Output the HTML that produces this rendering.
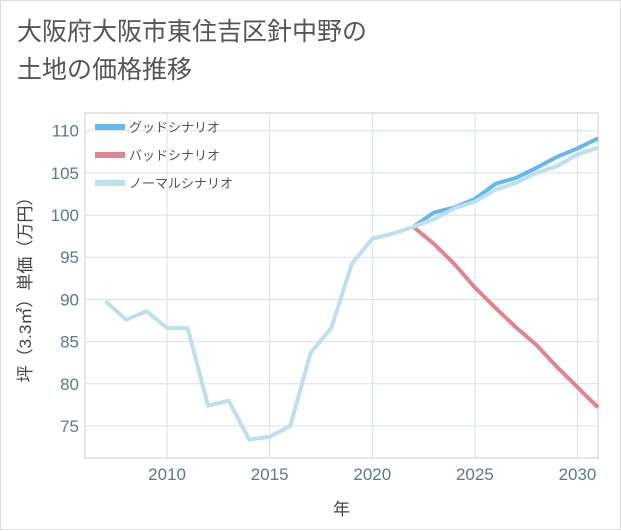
<!DOCTYPE html>
<html><head><meta charset="utf-8"><style>
body{margin:0;background:#fff;}
#wrap{position:relative;width:621px;height:530px;background:#fff;border:1px solid #ddd;box-sizing:border-box;font-family:"Liberation Sans","Noto Sans CJK JP",sans-serif;}
.title{position:absolute;left:16px;top:12px;font-size:25px;color:#555;line-height:38px;white-space:nowrap;}
</style></head><body>
<div id="wrap">
<div class="title">大阪府大阪市東住吉区針中野の<br>土地の価格推移</div>
<svg id="chart" width="621" height="530" style="position:absolute;left:0;top:0"></svg>
</div>
<script>
const years=[2007,2008,2009,2010,2011,2012,2013,2014,2015,2016,2017,2018,2019,2020,2021,2022,2023,2024,2025,2026,2027,2028,2029,2030,2031];
const normalVals=[89.8,87.6,88.6,86.6,86.6,77.4,78.0,73.4,73.7,75.0,83.7,86.6,94.2,97.2,97.8,98.6,99.5,100.8,101.6,103.0,103.8,105.0,105.8,107.2,108.0];
const futureYears=[2022,2023,2024,2025,2026,2027,2028,2029,2030,2031];
const goodVals=[98.6,100.3,100.9,101.9,103.7,104.4,105.6,106.9,107.9,109.1];
const badVals=[98.6,96.6,94.2,91.4,89.0,86.7,84.6,82.0,79.6,77.2];
const xTicks=[2010,2015,2020,2025,2030];
const yTicks=[75,80,85,90,95,100,105,110];
const L=84,R=597,T=112,B=457,x0=2006,x1=2031,y0=71.2,y1=112.1;
const X=v=>L+(v-x0)/(x1-x0)*(R-L);
const Y=v=>B-(v-y0)/(y1-y0)*(B-T);
const svg=document.getElementById('chart');
const NS='http://www.w3.org/2000/svg';
function mk(tag,attrs){const e=document.createElementNS(NS,tag);for(const k in attrs)e.setAttribute(k,attrs[k]);svg.appendChild(e);return e;}
let bg=mk('rect',{x:L,y:T,width:R-L,height:B-T,fill:'#fff',stroke:'#ccc'});


xTicks.forEach(t=>{
 let g=mk('line',{x1:X(t),x2:X(t),y1:T,y2:B,stroke:'#d6e2ea'});
 
 
 let tx=mk('text',{x:X(t),y:B+22,'text-anchor':'middle','font-size':17,fill:'#5a7a90'});
 tx.textContent=t;
 
 
});
yTicks.forEach(t=>{
 let g=mk('line',{x1:L,x2:R,y1:Y(t),y2:Y(t),stroke:'#d6e2ea'});
 
 
 let tx=mk('text',{x:L-6,y:Y(t)+6,'text-anchor':'end','font-size':17,fill:'#5a7a90'});
 tx.textContent=t;
 
 
});
let xt=mk('text',{x:(L+R)/2,y:514,'text-anchor':'middle','font-size':17,fill:'#444'});
xt.textContent='年';


let yt=mk('text',{x:0,y:0,'text-anchor':'middle','font-size':17,fill:'#444',transform:'translate(30,'+((T+B)/2)+') rotate(-90)'});
yt.textContent='坪（3.3㎡）単価（万円）';


function line(xs,vs,color,name){
 const p=mk('polyline',{points:xs.map((y,i)=>X(y)+','+Y(vs[i])).join(' '),fill:'none',stroke:color,'stroke-width':4,'stroke-linejoin':'round'});
 
 
}
line(futureYears,goodVals,'#64b8f0','good-scenario-line');
line(futureYears,badVals,'#de8690','bad-scenario-line');
line(years,normalVals,'#bde0ec','normal-scenario-line');
const leg=[['グッドシナリオ','#64b8f0'],['バッドシナリオ','#de8690'],['ノーマルシナリオ','#bde0ec']];
leg.forEach((l,i)=>{
 const y=126+i*28;
 let r=mk('rect',{x:94,y:y-3,width:30,height:6,fill:l[1]});
 
 
 let t=mk('text',{x:128,y:y+5,'font-size':13,fill:'#555'});
 t.textContent=l[0];
 
 
});
</script>
</body></html>
